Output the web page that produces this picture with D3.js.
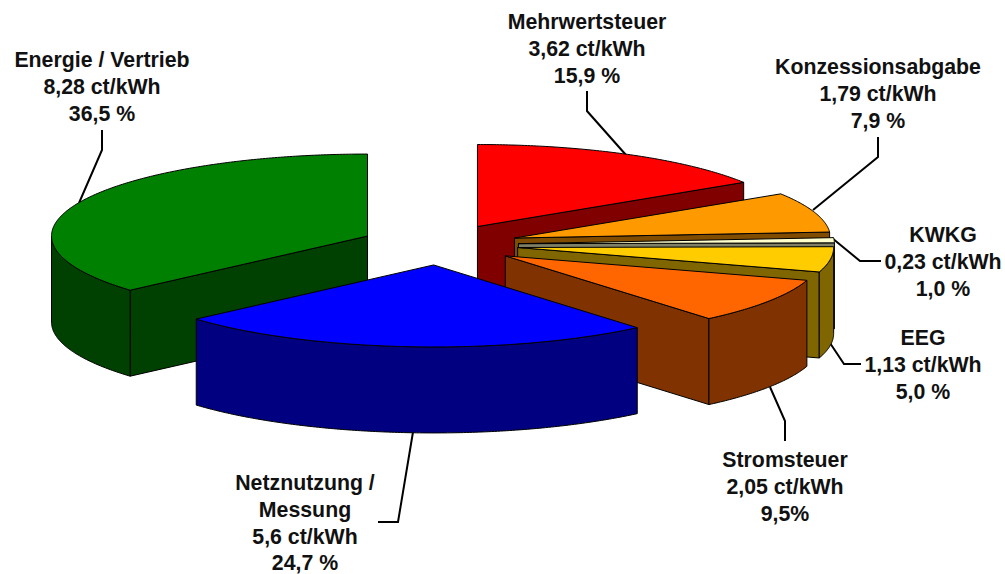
<!DOCTYPE html>
<html>
<head>
<meta charset="utf-8">
<script src="https://cdn.jsdelivr.net/npm/d3@7"></script>
<style>
  html, body { margin: 0; padding: 0; background: #fff; }
  text { font-family: "Liberation Sans", Arial, sans-serif; font-weight: bold; font-size: 21.3px; fill: #111; text-anchor: middle; }
</style>
</head>
<body>
<div id="chart"></div>
<script>
// data, clockwise from 12 o'clock
var sliceNames = ["Mehrwertsteuer", "Konzessionsabgabe", "KWKG", "EEG", "Stromsteuer", "Netznutzung / Messung", "Energie / Vertrieb"];
var ctValues = [3.62, 1.79, 0.23, 1.13, 2.05, 5.6, 8.28];
var ctLabels = ["3,62 ct/kWh", "1,79 ct/kWh", "0,23 ct/kWh", "1,13 ct/kWh", "2,05 ct/kWh", "5,6 ct/kWh", "8,28 ct/kWh"];
var pctLabels = ["15,9 %", "7,9 %", "1,0 %", "5,0 %", "9,5%", "24,7 %", "36,5 %"];

// styling + layout, kept apart from the values
var topColors = ["#ff0000", "#ff9900", "#ffffcc", "#ffcc00", "#ff6600", "#0000ff", "#008000"];
var sideColors = ["#800000", "#804c00", "#808066", "#806600", "#803300", "#000080", "#004000"];
var drawOrder = [0, 1, 2, 3, 4, 6, 5]; // back to front
var labelX = [587, 878, 943, 923, 785, 305, 102];
var labelY = [29, 74, 242, 345, 467, 490, 67];
var leaders = [
    [[587, 91], [587, 111], [626, 155]],
    [[878, 137], [878, 157], [813, 210]],
    [[832, 238], [860, 261], [881, 261]],
    [[830, 343], [844, 364], [861, 364]],
    [[770, 387], [785, 421], [785, 441]],
    [[413, 432], [398, 522], [378, 522]],
    [[102, 130], [102, 150], [79, 203]]
];

var width = 1005, height = 574;
var cx = 439.5, cy = 244.5, rx = 316, ry = 82;
var depth = 86;
var explode = 0.25;

var svg = d3.select("#chart").append("svg")
    .attr("width", width)
    .attr("height", height);

var xScale = d3.scaleLinear().domain([-1, 1]).range([cx - rx, cx + rx]);
var yScale = d3.scaleLinear().domain([-1, 1]).range([cy - ry, cy + ry]);

var line = d3.line()
    .x(function(d) { return xScale(d[0]); })
    .y(function(d) { return yScale(d[1]) + (d[2] || 0); });

var arcs = d3.pie().sort(null).value(function(d) { return d; })(ctValues);

function rim(apex, a0, a1, drop) {
    var steps = Math.max(2, Math.ceil((a1 - a0) / 0.01));
    return d3.range(steps + 1).map(function(i) {
        var a = a0 + (a1 - a0) * i / steps;
        return [apex[0] + Math.sin(a), apex[1] - Math.cos(a), drop];
    });
}

function cutFace(apex, a) {
    var p = [apex[0] + Math.sin(a), apex[1] - Math.cos(a)];
    return [[apex[0], apex[1], 0], [p[0], p[1], 0], [p[0], p[1], depth], [apex[0], apex[1], depth]];
}

function addShape(group, points, fill) {
    group.append("path")
        .attr("d", line(points) + "Z")
        .attr("fill", fill)
        .attr("stroke", "#000")
        .attr("stroke-width", 1)
        .attr("stroke-linejoin", "round");
}

// leader lines lie under the slices
svg.append("g").selectAll("path")
    .data(leaders)
    .join("path")
    .attr("d", d3.line())
    .attr("fill", "none")
    .attr("stroke", "#000")
    .attr("stroke-width", 2);

drawOrder.forEach(function(i) {
    var d = arcs[i];
    var mid = (d.startAngle + d.endAngle) / 2;
    var apex = [explode * Math.sin(mid), -explode * Math.cos(mid)];
    var g = svg.append("g").attr("class", "slice");

    if (Math.sin(d.startAngle) < -1e-6) addShape(g, cutFace(apex, d.startAngle), sideColors[i]);
    if (Math.sin(d.endAngle) > 1e-6) addShape(g, cutFace(apex, d.endAngle), sideColors[i]);

    // outer wall, only the part turned to the viewer
    var w0 = Math.max(d.startAngle, Math.PI / 2);
    var w1 = Math.min(d.endAngle, Math.PI * 1.5);
    if (w1 > w0) {
        addShape(g, rim(apex, w0, w1, 0).concat(rim(apex, w0, w1, depth).reverse()), sideColors[i]);
    }

    addShape(g, [[apex[0], apex[1], 0]].concat(rim(apex, d.startAngle, d.endAngle, 0)), topColors[i]);
});

// labels
sliceNames.forEach(function(name, i) {
    var lines = name == "Netznutzung / Messung" ? ["Netznutzung /", "Messung"] : [name];
    lines = lines.concat([ctLabels[i], pctLabels[i]]);
    var label = svg.append("text").attr("transform", "translate(" + labelX[i] + "," + labelY[i] + ")");
    lines.forEach(function(t, k) {
        label.append("tspan").attr("x", 0).attr("y", k * 26.8).text(t);
    });
});
</script>
</body>
</html>
